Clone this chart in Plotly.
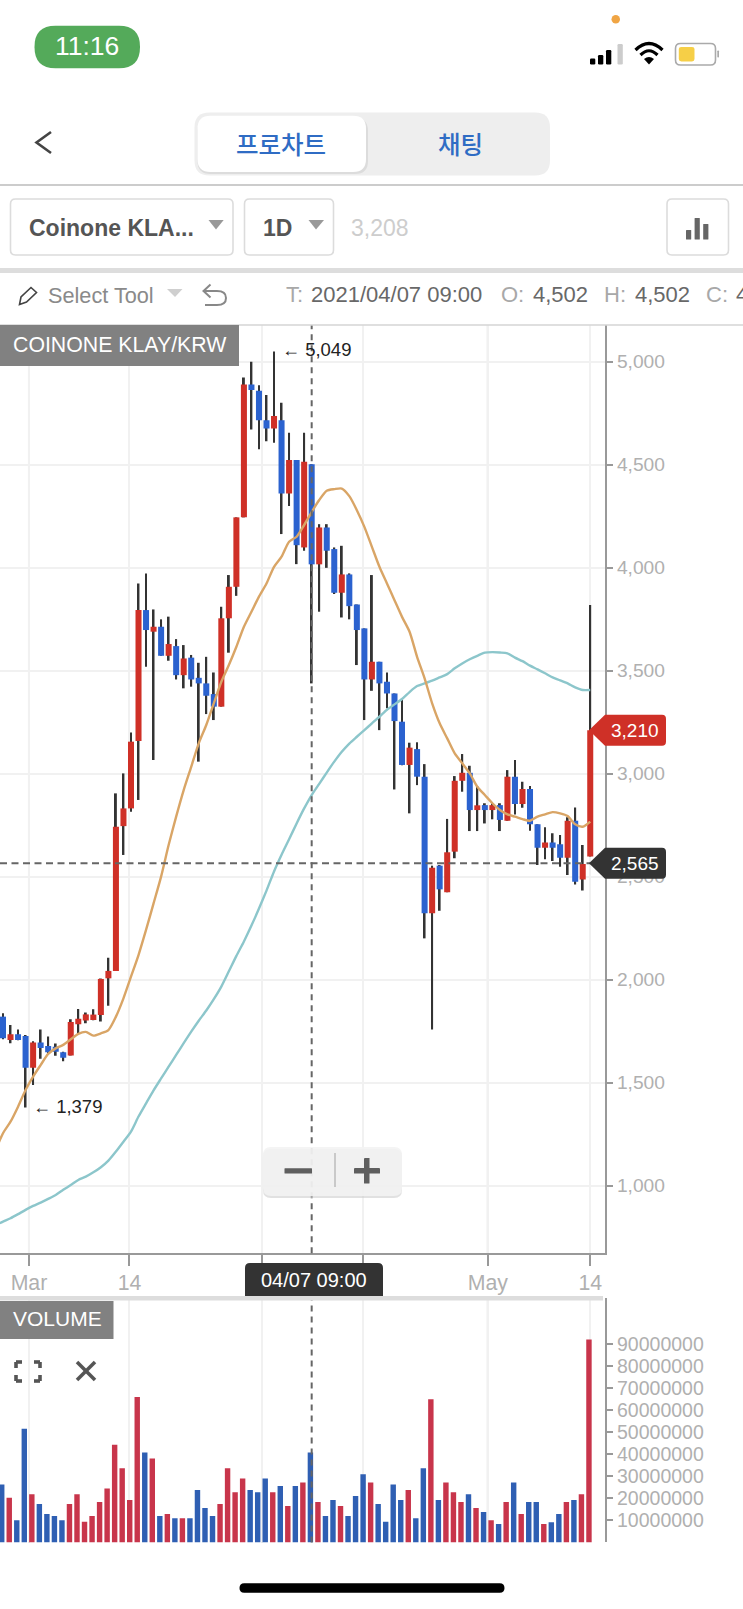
import pandas as pd
import plotly.graph_objects as go

W, H = 743, 1609

# Daily candles, Coinone KLAY/KRW
DATES = pd.date_range("2021-02-25 09:00", "2021-05-14 09:00", freq="D")
OPEN = [1820, 1707, 1734, 1726, 1572, 1695, 1678, 1674, 1647, 1631, 1783, 1801, 1804, 1828, 2006, 2042, 2745, 2831, 3158, 3794,
        3689, 3713, 3572, 3619, 3478, 3563, 3465, 3438, 3386, 3325, 3754, 3907, 4244, 4889, 4859, 4716, 4676, 4716, 4360, 4522,
        4098, 4502, 4016, 4195, 4090, 3878, 3967, 3821, 3705, 3457, 3543, 3446, 3389, 3252, 3042, 3119, 2985, 2322, 2553, 2424,
        2621, 2965, 3004, 2823, 2847, 2823, 2847, 2771, 2985, 2852, 2925, 2754, 2640, 2666, 2657, 2592, 2771, 2486, 2597]
HIGH = [1836, 1780, 1758, 1731, 1700, 1758, 1723, 1690, 1650, 1807, 1857, 1840, 1856, 2005, 2106, 2904, 3001, 3200, 3923, 3972,
        3797, 3749, 3762, 3653, 3624, 3576, 3538, 3567, 3491, 3810, 3964, 4244, 4923, 5000, 4886, 4838, 5049, 4800, 4655, 4522,
        4655, 4502, 4211, 4211, 4098, 4106, 3972, 3821, 3705, 3964, 3543, 3491, 3389, 3357, 3150, 3152, 3046, 2553, 2556, 2780,
        2988, 3095, 3038, 2940, 2856, 2856, 2856, 3017, 3066, 2961, 2940, 2754, 2739, 2710, 2702, 2788, 2836, 2653, 3818]
LOW = [1710, 1691, 1705, 1379, 1488, 1615, 1640, 1630, 1603, 1631, 1739, 1788, 1802, 1796, 1873, 2042, 2605, 2815, 2872, 3519,
       3066, 3572, 3548, 3457, 3414, 3422, 3058, 3289, 3260, 3325, 3587, 3863, 4244, 4671, 4575, 4614, 4606, 4163, 4299, 4017,
       4082, 3438, 3786, 3999, 3872, 3758, 3749, 3527, 3260, 3402, 3211, 3317, 2923, 3041, 2807, 2944, 2200, 1758, 2334, 2424,
       2589, 2912, 2721, 2721, 2758, 2778, 2721, 2771, 2802, 2834, 2723, 2556, 2584, 2576, 2548, 2508, 2462, 2432, 2597]
CLOSE = [1715, 1734, 1707, 1572, 1695, 1668, 1647, 1650, 1620, 1794, 1810, 1831, 1830, 2003, 2042, 2742, 2831, 3155, 3794, 3697,
         3713, 3572, 3629, 3478, 3559, 3457, 3438, 3378, 3325, 3754, 3907, 4244, 4889, 4862, 4716, 4676, 4736, 4360, 4522, 4109,
         4514, 4016, 4195, 4082, 3878, 3967, 3813, 3697, 3457, 3543, 3438, 3389, 3255, 3042, 3126, 2985, 2322, 2543, 2438, 2618,
         2965, 3004, 2823, 2846, 2823, 2847, 2775, 2985, 2852, 2925, 2754, 2640, 2666, 2640, 2592, 2771, 2475, 2561, 3210]

# Moving averages; the first value sits on the day before the first candle
MA_DATES = pd.date_range("2021-02-24 09:00", "2021-05-14 09:00", freq="D")
MA_FAST = [1170, 1254, 1310, 1383, 1464, 1529, 1585, 1639, 1666, 1683, 1710, 1736, 1746, 1728, 1739, 1755, 1820, 1909, 2014, 2119,
           2241, 2370, 2500, 2653, 2791, 2920, 3033, 3147, 3236, 3341, 3446, 3527, 3616, 3713, 3786, 3859, 3923, 4004, 4053, 4126,
           4150, 4207, 4270, 4328, 4373, 4381, 4384, 4347, 4279, 4198, 4101, 4004, 3923, 3842, 3761, 3689, 3567, 3462, 3341, 3244,
           3171, 3098, 3050, 3001, 2936, 2896, 2856, 2823, 2802, 2791, 2779, 2771, 2791, 2802, 2813, 2807, 2794, 2754, 2742, 2767]
MA_SLOW = [808, 825, 841, 861, 882, 901, 917, 935, 954, 979, 1003, 1027, 1043, 1064, 1089, 1121, 1165, 1213, 1262, 1335,
           1399, 1462, 1520, 1577, 1634, 1691, 1747, 1800, 1850, 1905, 1966, 2040, 2115, 2185, 2262, 2345, 2432, 2525, 2606, 2681,
           2758, 2831, 2896, 2950, 3005, 3058, 3106, 3146, 3179, 3211, 3244, 3276, 3310, 3336, 3362, 3396, 3425, 3438, 3451, 3467,
           3483, 3511, 3535, 3555, 3572, 3587, 3590, 3588, 3584, 3563, 3546, 3524, 3506, 3487, 3467, 3453, 3438, 3419, 3406, 3406]

VOLUME = [26.3, 20.3, 10.1, 51.6, 21.9, 17.4, 12.9, 12.0, 10.1, 17.4, 21.9, 9.4, 12.0, 18.3, 24.5, 44.3, 33.6, 19.2, 66.0, 40.8,
          38.1, 12.0, 12.9, 11.0, 11.0, 11.0, 23.8, 15.6, 12.0, 17.4, 33.6, 22.8, 29.0, 23.8, 22.8, 29.0, 22.8, 25.6, 16.5, 25.6,
          27.2, 40.8, 18.3, 12.0, 19.2, 16.5, 12.0, 21.0, 30.9, 27.2, 17.4, 9.4, 26.3, 19.2, 23.8, 11.0, 33.6, 65.0, 19.2, 27.2,
          22.8, 18.3, 21.9, 15.6, 13.8, 10.1, 8.3, 18.3, 27.2, 12.9, 18.3, 18.3, 8.3, 9.2, 12.9, 18.3, 19.2, 21.9, 92.1]  # millions
VOLUME_RED = [0, 1, 0, 0, 1, 0, 0, 0, 0, 1, 1, 1, 1, 1, 1, 1, 1, 1, 1, 0,
              1, 0, 1, 0, 1, 0, 0, 0, 0, 1, 1, 1, 1, 0, 0, 0, 1, 0, 1, 0,
              1, 0, 1, 0, 0, 1, 0, 0, 0, 1, 0, 0, 0, 0, 1, 0, 0, 1, 0, 1,
              1, 1, 0, 1, 0, 1, 0, 1, 0, 1, 0, 0, 1, 0, 0, 1, 0, 1, 1]

TICK_DATES = ["2021-02-28 19:48", "2021-03-14 04:12", "2021-03-31 18:36",
              "2021-04-14 04:12", "2021-04-30 18:36", "2021-05-14 09:00"]
TICK_TEXT = ["Mar", "14", "", "", "May", "14"]
MONTH_LINES = ["2021-02-28 19:48", "2021-03-31 18:36", "2021-04-30 18:36"]
PRICE_TICKS = [1000, 1500, 2000, 2500, 3000, 3500, 4000, 4500, 5000]
VOLUME_TICKS = [10e6, 20e6, 30e6, 40e6, 50e6, 60e6, 70e6, 80e6, 90e6]

SELECTED_DATE = "2021-04-07 09:00"
LAST_PRICE = 3210
CROSS_PRICE = 2565
TOP_PRICE = 5049
BOTTOM_PRICE = 1379

RED, BLUE = "#cf3027", "#2b62cf"
VOL_R, VOL_B = "#c8354b", "#2f5fb3"
DAY_MS = 86400000
FONT = "Liberation Sans"
KR = "Noto Sans CJK KR"


def px(x):
    return x / W


def py(y):
    return 1 - y / H


def pts(*cmds):
    """Build a paper-space SVG path from pixel tuples: ('M',x,y), ('Q',x1,y1,x,y), ('Z',)."""
    out = []
    for c in cmds:
        vals = c[1:]
        coords = [f"{px(v) if i % 2 == 0 else py(v):.6f}" for i, v in enumerate(vals)]
        out.append(c[0] + " " + ",".join(coords) if coords else c[0])
    return " ".join(out)


def round_rect(x0, y0, x1, y1, r, tl=True, tr=True, br=True, bl=True):
    c = []
    c.append(("M", x0 + (r if tl else 0), y0))
    c.append(("L", x1 - (r if tr else 0), y0))
    if tr:
        c.append(("Q", x1, y0, x1, y0 + r))
    c.append(("L", x1, y1 - (r if br else 0)))
    if br:
        c.append(("Q", x1, y1, x1 - r, y1))
    c.append(("L", x0 + (r if bl else 0), y1))
    if bl:
        c.append(("Q", x0, y1, x0, y1 - r))
    c.append(("L", x0, y0 + (r if tl else 0)))
    if tl:
        c.append(("Q", x0, y0, x0 + r, y0))
    c.append(("Z",))
    return pts(*c)


shapes = []
annots = []


def fill(path, color, line=None, lw=0):
    shapes.append(dict(type="path", xref="paper", yref="paper", path=path, fillcolor=color,
                       line=dict(color=line or "rgba(0,0,0,0)", width=lw), layer="above"))


def stroke(path, color, lw):
    shapes.append(dict(type="path", xref="paper", yref="paper", path=path,
                       line=dict(color=color, width=lw), layer="above"))


def text(x, y, s, size, color, anchor="center", family=FONT, bold=False, weight=None):
    f = dict(family=family, size=size, color=color)
    if weight:
        f["weight"] = weight
    annots.append(dict(xref="paper", yref="paper", x=px(x), y=py(y), text=f"<b>{s}</b>" if bold else s,
                       showarrow=False, xanchor=anchor, yanchor="middle", borderpad=0, font=f))


fig = go.Figure()

# Price panel: wicks under the bodies, averages on top
wick_width = 0.25 * DAY_MS
body_width = 0.8 * DAY_MS
fig.add_trace(go.Bar(x=DATES, y=[h - l for h, l in zip(HIGH, LOW)], base=LOW, width=wick_width,
                     marker=dict(color="#333333", line=dict(width=0)), xaxis="x", yaxis="y"))
for is_up, color in ((True, RED), (False, BLUE)):
    idx = [i for i, (o, c) in enumerate(zip(OPEN, CLOSE)) if (c > o) == is_up]
    fig.add_trace(go.Bar(x=[DATES[i] for i in idx], y=[abs(CLOSE[i] - OPEN[i]) for i in idx],
                         base=[min(OPEN[i], CLOSE[i]) for i in idx], width=body_width,
                         marker=dict(color=color, line=dict(width=0)), xaxis="x", yaxis="y"))
fig.add_trace(go.Scatter(x=MA_DATES, y=MA_SLOW, mode="lines",
                         line=dict(color="#8cc6cb", width=2.4, shape="spline", smoothing=0.7), xaxis="x", yaxis="y"))
fig.add_trace(go.Scatter(x=MA_DATES, y=MA_FAST, mode="lines",
                         line=dict(color="#d9a566", width=2.4, shape="spline", smoothing=0.7), xaxis="x", yaxis="y"))

# Volume panel
vol_width = 0.72 * DAY_MS
vol_offset = -0.36 * DAY_MS - 0.17 * DAY_MS
for flag, color in ((1, VOL_R), (0, VOL_B)):
    idx = [i for i, f in enumerate(VOLUME_RED) if f == flag]
    fig.add_trace(go.Bar(x=[DATES[i] for i in idx], y=[VOLUME[i] * 1e6 for i in idx], width=vol_width, offset=vol_offset,
                         marker=dict(color=color, line=dict(width=0)), xaxis="x2", yaxis="y2"))

# Darker month gridlines in both panels
for d in MONTH_LINES:
    for xr, yr in (("x", "y domain"), ("x2", "y2 domain")):
        shapes.append(dict(type="line", xref=xr, yref=yr, x0=d, x1=d, y0=0, y1=1, layer="below",
                           line=dict(color="#c9c9c9", width=2)))

# Crosshair
for xr, yr in (("x", "y domain"), ("x2", "y2 domain")):
    shapes.append(dict(type="line", xref=xr, yref=yr, x0=SELECTED_DATE, x1=SELECTED_DATE, y0=0, y1=1,
                       line=dict(color="#666666", width=2, dash="6px,5px"), layer="above"))
shapes.append(dict(type="line", xref="x domain", yref="y", x0=0, x1=0.98, y0=CROSS_PRICE, y1=CROSS_PRICE,
                   line=dict(color="#666666", width=2, dash="7px,4.5px"), layer="above"))

# High / low notes
AN = '<span style="font-size:18px">←</span> '
annots.append(dict(xref="x", yref="y", x=DATES[36], y=TOP_PRICE, xshift=6, yshift=2, xanchor="left", yanchor="middle",
                   text=AN + f"{TOP_PRICE:,}", showarrow=False, font=dict(family=FONT, size=18.5, color="#222222")))
annots.append(dict(xref="x", yref="y", x=DATES[3], y=BOTTOM_PRICE, xshift=5, yshift=1, xanchor="left", yanchor="middle",
                   text=AN + f"{BOTTOM_PRICE:,}", showarrow=False, font=dict(family=FONT, size=18.5, color="#222222")))


def price_tag(tip_y, color, label):
    x0, x1 = 589, 666
    top, bot = tip_y - 15.5, tip_y + 15.5
    path = pts(("M", x0, tip_y), ("L", 605, top), ("L", x1 - 4, top), ("Q", x1, top, x1, top + 4),
               ("L", x1, bot - 4), ("Q", x1, bot, x1 - 4, bot), ("L", 605, bot), ("Z",))
    fill(path, color)
    annots.append(dict(xref="paper", yref="y", x=px(634.5), y=label, xanchor="center", yanchor="middle", showarrow=False,
                       text=f"{label:,}", font=dict(family=FONT, size=19, color="#ffffff")))


def y_of_price(v):
    return 1185.6 - (v - 1000) * 0.206


price_tag(y_of_price(LAST_PRICE), "#cf3027", LAST_PRICE)
price_tag(y_of_price(CROSS_PRICE), "#333333", CROSS_PRICE)

# Date flag under the crosshair
fill(round_rect(245, 1263, 383, 1296, 5, br=False, bl=False), "#333333")
text(314, 1279.5, "04/07 09:00", 20, "#ffffff")

# Pane dividers
fill(round_rect(0, 1296, 603, 1300.5, 0.01), "#dddddd")
stroke(pts(("M", 0, 325), ("L", 743, 325)), "#d4d4d4", 1.5)

# Pane captions
fill(round_rect(0, 325, 239, 366, 0.01), "rgba(122,122,122,0.95)")
text(12, 345.5, "COINONE KLAY/KRW", 21.3, "#ffffff", anchor="left")
fill(round_rect(0, 1301, 113.5, 1339, 0.01), "rgba(122,122,122,0.95)")
text(12, 1318.5, "VOLUME", 21, "#ffffff", anchor="left")

# Pane icons: maximise and close
for a, b, c, d in ((16, 1368, 16, 1362), (16, 1362, 22, 1362), (34, 1362, 40, 1362), (40, 1362, 40, 1368),
                   (16, 1375, 16, 1381), (16, 1381, 22, 1381), (34, 1381, 40, 1381), (40, 1381, 40, 1375)):
    stroke(pts(("M", a, b), ("L", c, d)), "#555555", 3.6)
stroke(pts(("M", 77, 1362), ("L", 95, 1380)), "#555555", 3.5)
stroke(pts(("M", 95, 1362), ("L", 77, 1380)), "#555555", 3.5)

# Zoom control
fill(round_rect(263, 1149, 402, 1198, 8), "rgba(205,205,205,0.6)")
fill(round_rect(263, 1147, 402, 1196, 8), "rgba(243,243,243,0.88)")
fill(round_rect(284.5, 1168.2, 312, 1173.5, 0.5), "#5f5f5f")
stroke(pts(("M", 335, 1153), ("L", 335, 1187)), "#bbbbbb", 1.5)
fill(round_rect(354, 1168, 380, 1173.5, 0.5), "#5f5f5f")
fill(round_rect(364, 1158, 369.5, 1183.5, 0.5), "#5f5f5f")

# Status bar
fill(round_rect(34.5, 25.7, 140, 68.3, 21), "#54aa5a")
text(87, 46.5, "11:16", 26.5, "#ffffff")
shapes.append(dict(type="circle", xref="paper", yref="paper", x0=px(611.5), x1=px(620), y0=py(15), y1=py(23.5),
                   fillcolor="#f0a544", line=dict(width=0), layer="above"))
for x0, top, color in ((590, 58.5, "#000000"), (598, 55, "#000000"), (606, 50, "#000000"), (617.5, 44, "#cccccc")):
    fill(round_rect(x0, top, x0 + 5.3, 64.5, 1.2), color)
stroke(pts(("M", 635.5, 50), ("Q", 649, 37, 662.5, 50)), "#000000", 3.2)
stroke(pts(("M", 640.5, 55), ("Q", 649, 46.5, 657.5, 55)), "#000000", 3.2)
fill(pts(("M", 649, 64.5), ("L", 644, 59), ("Q", 649, 55, 654, 59), ("Z",)), "#000000")
fill(round_rect(675.5, 43.5, 715.5, 65, 5), "#ffffff", "#aaaaaa", 1.6)
fill(round_rect(678.8, 47, 694.5, 61.5, 2.5), "#f6cf47")
fill(round_rect(717.3, 50.5, 719, 57.5, 0.7), "#aaaaaa")

# Back button and segmented tabs
stroke(pts(("M", 51, 132), ("L", 36.5, 142.5), ("L", 51, 153)), "#444444", 2.6)
fill(round_rect(194.5, 112.5, 550, 175.5, 15), "#eeeeee")
fill(round_rect(197.5, 118, 368, 174, 13), "#dcdcdc")
fill(round_rect(197.5, 115.7, 366, 172, 13), "#ffffff")
text(281, 144, "프로차트", 24.5, "#2f6cc4", family=KR, weight=500)
text(460.5, 144, "채팅", 24.5, "#2f6cc4", family=KR, weight=500)
stroke(pts(("M", 0, 185), ("L", 743, 185)), "#cccccc", 2)

# Symbol row
for x0, x1 in ((10.5, 233), (244.5, 333.5), (667, 728.5)):
    fill(round_rect(x0, 199, x1, 255, 5), "#ffffff", "#dcdcdc", 1.6)
text(28, 228, "Coinone KLA...", 23, "#555555", anchor="left", bold=True)
text(262, 228, "1D", 23, "#555555", anchor="left", bold=True)
text(349.5, 228, "3,208", 23, "#cdcdcd", anchor="left")
fill(pts(("M", 208.5, 220), ("L", 223.7, 220), ("L", 216, 229.5), ("Z",)), "#999999")
fill(pts(("M", 308.5, 220), ("L", 324, 220), ("L", 316, 229.5), ("Z",)), "#999999")
for x0, top in ((686, 230), (694.6, 218), (703.2, 224)):
    fill(round_rect(x0, top, x0 + 5.2, 239.5, 0.5), "#666666")
fill(round_rect(0, 268, 743, 273, 0.01), "#dddddd")

# Drawing toolbar
stroke(pts(("M", 19.5, 304.5), ("L", 21, 297), ("L", 31, 287.5), ("L", 36.5, 292.5), ("L", 26.5, 302), ("Z",)), "#444444", 1.6)
text(47, 296, "Select Tool", 21.7, "#8a8a8a", anchor="left")
fill(pts(("M", 167, 289), ("L", 182.5, 289), ("L", 175, 297), ("Z",)), "#cfcfcf")
stroke(pts(("M", 210.5, 284.5), ("L", 203.5, 291), ("L", 210.5, 297.5)), "#888888", 2)
stroke(pts(("M", 204, 291), ("L", 217, 291), ("Q", 226, 291, 226, 298), ("Q", 226, 305, 217, 305), ("L", 205, 305)), "#888888", 2)
LIGHT, MID = "#a8a8a8", "#686868"
for x, s, color in ((285, "T:", LIGHT), (310, "2021/04/07 09:00", MID), (500, "O:", LIGHT), (531.5, "4,502", MID),
                    (603, "H:", LIGHT), (634, "4,502", MID), (704.5, "C:", LIGHT), (734.5, "4", MID)):
    text(x, 294.5, s, 22, color, anchor="left")

# Home indicator
fill(round_rect(239.5, 1583.3, 504.5, 1592.7, 4.7), "#000000")

x_range = ["2021-02-24 23:27", "2021-05-16 09:00"]
x_common = dict(range=x_range, type="date", domain=[0, 605.3 / W], tickmode="array", tickvals=TICK_DATES,
                showgrid=True, gridcolor="#f1f1f1", gridwidth=1.5, zeroline=False)

fig.update_layout(
    width=W, height=H, autosize=False, margin=dict(l=0, r=0, t=0, b=0),
    paper_bgcolor="#ffffff", plot_bgcolor="#ffffff", showlegend=False, barmode="overlay", hovermode=False,
    font=dict(family=FONT),
    shapes=shapes, annotations=annots,
    xaxis=dict(**x_common, anchor="y", ticktext=TICK_TEXT, ticks="outside", ticklen=11, tickwidth=1.6, tickcolor="#999999",
               showline=True, linecolor="#999999", linewidth=1.6,
               tickfont=dict(family=FONT, size=21.3, color="#b0b0b0"), ticklabelstandoff=-2),
    yaxis=dict(domain=[py(1253.3), py(325)], range=[671, 5178], side="right", anchor="x", tickmode="array",
               tickvals=PRICE_TICKS, tickformat=",", ticks="outside", ticklen=6, tickwidth=1.6, tickcolor="#999999",
               showline=True, linecolor="#999999", linewidth=1.6, showgrid=True, gridcolor="#f1f1f1", gridwidth=1.6,
               zeroline=False, tickfont=dict(family=FONT, size=19.2, color="#b0b0b0")),
    xaxis2=dict(**x_common, anchor="y2", showticklabels=False, ticks="", showline=False),
    yaxis2=dict(domain=[py(1542.4), py(1298)], range=[0, 110.9e6], side="right", anchor="x2", tickmode="array",
                tickvals=VOLUME_TICKS, tickformat="d", ticks="outside", ticklen=6, tickwidth=1.6, tickcolor="#999999",
                showline=True, linecolor="#999999", linewidth=1.6, showgrid=False, zeroline=False,
                tickfont=dict(family=FONT, size=19.5, color="#b0b0b0")),
)

fig.write_html("out.html", config={"displayModeBar": False})
